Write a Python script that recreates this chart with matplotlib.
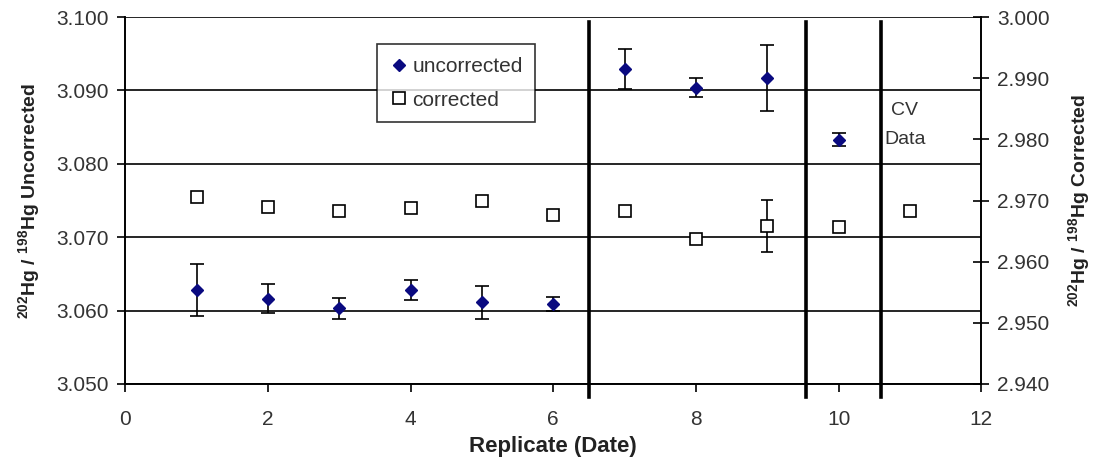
import matplotlib
matplotlib.use('Agg')
from matplotlib import pyplot as plt
from matplotlib.lines import Line2D

plt.rcParams['font.family'] = ['Liberation Sans', 'DejaVu Sans']
plt.rcParams['mathtext.default'] = 'regular'

# uncorrected ratios (left axis)
unc_x = [1, 2, 3, 4, 5, 6, 7, 8, 9, 10]
unc_y = [3.0628, 3.0616, 3.0603, 3.0628, 3.0611, 3.0609, 3.0929, 3.0904, 3.0917, 3.0833]
unc_err = [0.0036, 0.0020, 0.0014, 0.0014, 0.0022, 0.0009, 0.0027, 0.0013, 0.0045, 0.0009]

# corrected ratios (right axis)
cor_x = [1, 2, 3, 4, 5, 6, 7, 8, 9, 10, 11]
cor_y = [2.9705, 2.9690, 2.9683, 2.9687, 2.9699, 2.9676, 2.9683, 2.9637, 2.9658, 2.9657, 2.9683]
cor_err = [0.0005, 0.0005, 0.0005, 0.0005, 0.0005, 0.0004, 0.0005, 0.0004, 0.0043, 0.0005, 0.0005]

# session separators
dividers = [6.5, 9.55, 10.6]

text_color = '#333333'

fig, ax = plt.subplots(figsize=(11, 4.62), dpi=100)
fig.subplots_adjust(left=0.114, right=0.892, top=0.963, bottom=0.169)
ax2 = ax.twinx()

ax.set_xlim(0, 12)
ax.set_ylim(3.050, 3.100)
ax2.set_ylim(2.940, 3.000)
ax.set_xticks(range(0, 13, 2))
ax.set_yticks([3.05 + 0.01 * i for i in range(6)])
ax2.set_yticks([2.94 + 0.01 * i for i in range(7)])
ax.yaxis.set_major_formatter(matplotlib.ticker.FormatStrFormatter('%.3f'))
ax2.yaxis.set_major_formatter(matplotlib.ticker.FormatStrFormatter('%.3f'))

# gridlines of the left axis
ax.grid(axis='y', color='black', linewidth=1.2)
ax.set_axisbelow(True)

ax.tick_params(axis='both', labelsize=15, labelcolor=text_color, color='black',
               length=6, width=1.2, direction='out')
ax.tick_params(axis='x', pad=13)
ax.tick_params(axis='y', pad=6)
ax2.tick_params(axis='y', labelsize=15, labelcolor=text_color, length=11, width=1.2,
                direction='inout', pad=6)

for a in (ax, ax2):
    for s in a.spines.values():
        s.set_linewidth(1.2)
    a.spines['top'].set_visible(False)

# thick separators, running a bit past the bottom axis
for d in dividers:
    ax.plot([d, d], [3.0993, 3.0482], color='black', linewidth=2.6, clip_on=False, zorder=3)

ax.errorbar(unc_x, unc_y, yerr=unc_err, fmt='D', color='#0a0a80', markersize=6,
            ecolor='black', elinewidth=1.2, capsize=5, capthick=1.2, zorder=5)
ax2.errorbar(cor_x, cor_y, yerr=cor_err, fmt='s', markerfacecolor='white', markeredgecolor='black',
             markersize=8, markeredgewidth=1.2, ecolor='black', elinewidth=1.2, capsize=4,
             capthick=1.2, zorder=5)

ax.text(10.93, 3.0853, 'CV\nData', ha='center', va='center', fontsize=14, color=text_color,
        linespacing=1.9)

ax.set_xlabel('Replicate (Date)', fontsize=16, fontweight='bold', color='#222222', labelpad=5)
ax.set_ylabel('$^{202}$Hg / $^{198}$Hg Uncorrected', fontsize=14, fontweight='bold',
              color='#222222', labelpad=10)
ax2.set_ylabel('$^{202}$Hg / $^{198}$Hg Corrected', fontsize=14, fontweight='bold',
               color='#222222', labelpad=12)

handles = [Line2D([], [], linestyle='none', marker='D', color='#0a0a80', markersize=6),
           Line2D([], [], linestyle='none', marker='s', markerfacecolor='white',
                  markeredgecolor='black', markeredgewidth=1.2, markersize=8)]
leg = ax2.legend(handles, ['uncorrected', 'corrected'], loc='lower left',
                 bbox_to_anchor=(0.294, 0.714), fontsize=15, frameon=True, fancybox=False,
                 edgecolor='black', handletextpad=0.2, handlelength=0.9, borderpad=0.6,
                 labelspacing=0.7, borderaxespad=0)
for t in leg.get_texts():
    t.set_color(text_color)
leg.get_frame().set_linewidth(1.2)
leg.set_zorder(10)

fig.savefig('out.png', dpi=100)
